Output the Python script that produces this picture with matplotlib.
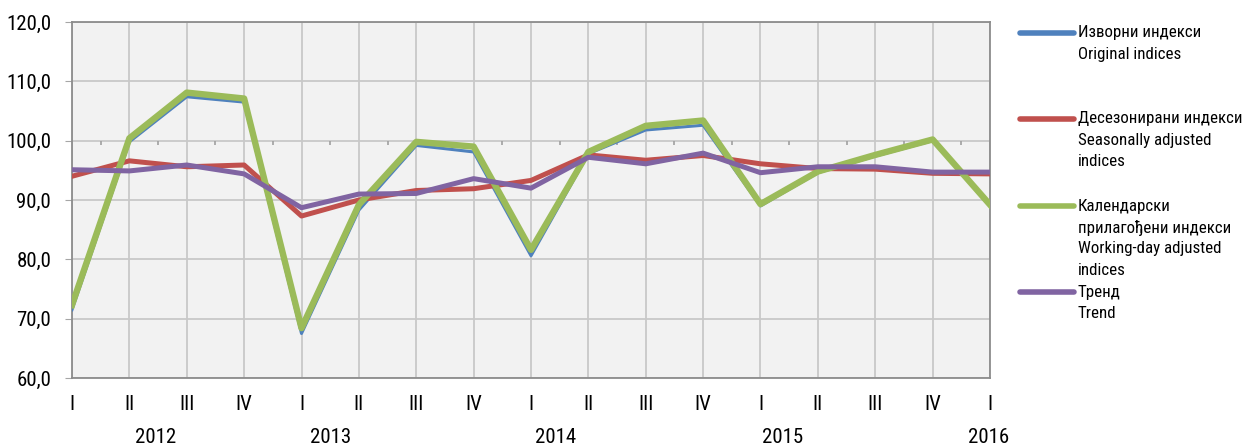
import matplotlib
matplotlib.use("Agg")
import matplotlib.pyplot as plt
from matplotlib import font_manager
from matplotlib.lines import Line2D
from matplotlib.transforms import blended_transform_factory

names = {f.name for f in font_manager.fontManager.ttflist}
for cand in ["Roboto Condensed", "PT Sans Narrow", "Liberation Sans"]:
    if cand in names:
        plt.rcParams['font.family'] = [cand, 'DejaVu Sans']
        break

quarters = ["I", "II", "III", "IV", "I", "II", "III", "IV", "I", "II", "III", "IV",
            "I", "II", "III", "IV", "I"]
years = ["2012", "2013", "2014", "2015", "2016"]
year_pos = [1.46, 4.5, 8.42, 12.39, 15.97]

original = [71.5, 99.8, 107.4, 106.5, 67.5, 88.3, 99.2, 98.1, 80.6, 97.8, 101.8, 102.6,
            89.0, 94.6, 97.4, 100.0, 89.0]
seasonal = [94.0, 96.6, 95.6, 95.9, 87.3, 90.0, 91.6, 91.9, 93.3, 97.6, 96.7, 97.5,
            96.1, 95.3, 95.2, 94.5, 94.4]
working = [72.3, 100.4, 108.1, 107.1, 68.4, 89.2, 99.8, 99.0, 81.6, 98.1, 102.5, 103.4,
           89.3, 94.8, 97.6, 100.2, 89.2]
trend = [95.1, 94.9, 95.9, 94.4, 88.7, 91.0, 91.1, 93.6, 92.0, 97.2, 96.1, 97.9,
         94.6, 95.6, 95.6, 94.7, 94.7]

labels = [
    ["Изворни индекси", "Original indices"],
    ["Десезонирани индекси", "Seasonally adjusted", "indices"],
    ["Календарски", "прилагођени индекси", "Working-day adjusted", "indices"],
    ["Тренд", "Trend"],
]
colors = ["#4F81BD", "#C0504D", "#9BBB59", "#8064A2"]

W, H = 1244, 447
fig = plt.figure(figsize=(W / 100, H / 100), dpi=100)
ax = fig.add_axes([72 / W, 1 - 378 / H, (990 - 72) / W, (378 - 22) / H])
ax.set_facecolor("#F2F2F2")

x = list(range(len(quarters)))
ax.plot(x, original, color=colors[0], lw=2.2, zorder=3)
ax.plot(x, seasonal, color=colors[1], lw=3.6, zorder=4)
ax.plot(x, working, color=colors[2], lw=4.6, zorder=5)
ax.plot(x, trend, color=colors[3], lw=3.6, zorder=6)

ax.set_xlim(0, len(quarters) - 1)
ax.set_ylim(60, 120)
ax.set_yticks([60, 70, 80, 90, 100, 110, 120])
ax.set_yticklabels(["60,0", "70,0", "80,0", "90,0", "100,0", "110,0", "120,0"], fontsize=15)
ax.set_xticks(x)
ax.set_xticklabels(quarters, fontsize=15)
ax.tick_params(axis='x', length=0, pad=12)
ax.tick_params(axis='y', length=5, color="#A6A6A6", pad=10)
ax.grid(True, color="#C8C8C8", lw=1.3, zorder=1)
ax.set_axisbelow(True)
for s in ax.spines.values():
    s.set_color("#8C8C8C")
    s.set_linewidth(1.3)

# small tick marks on the 100 line between categories
mids = [i + 0.5 for i in range(len(quarters) - 1)]
ax.vlines(mids, 99.35, 100, color="#A0A0A0", lw=1.2, zorder=2)

tr = blended_transform_factory(ax.transData, ax.transAxes)
for yl, xp in zip(years, year_pos):
    ax.text(xp, -0.166, yl, transform=tr, ha='center', va='center', fontsize=15)

# legend
line_y = [33, 119, 206, 292]
for ly, col, lab in zip(line_y, colors, labels):
    fig.add_artist(Line2D([1020 / W, 1074 / W], [1 - ly / H, 1 - ly / H],
                          color=col, lw=4, solid_capstyle='round',
                          transform=fig.transFigure))
    for k, t in enumerate(lab):
        fig.text(1078 / W, 1 - (ly + k * 21.5) / H, t, ha='left', va='center', fontsize=12.2)

fig.savefig("out.png", dpi=100)
